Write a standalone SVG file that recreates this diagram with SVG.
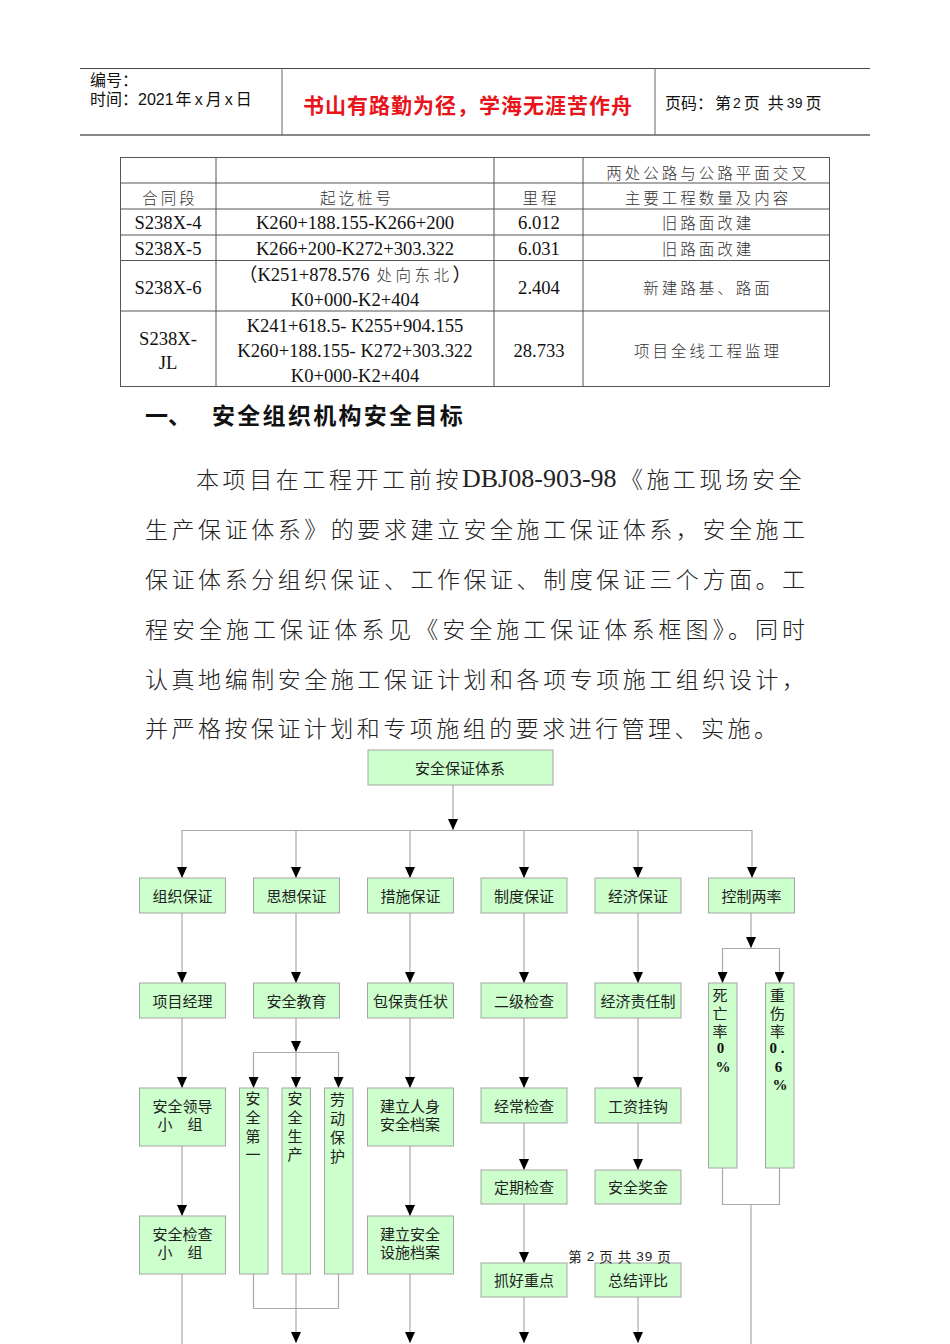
<svg xmlns="http://www.w3.org/2000/svg" width="950" height="1344" viewBox="0 0 950 1344">
<style>
  .cjk{font-family:"Noto Sans CJK SC","Noto Sans",sans-serif;}
  .ser{font-family:"Liberation Serif","Noto Sans CJK SC",serif;}
  .hdr{font-family:"Liberation Sans","Noto Sans CJK SC",sans-serif;font-size:16px;fill:#111;}
  .tbl{font-family:"Liberation Serif","Noto Sans CJK SC",serif;font-size:18.6px;fill:#111;text-anchor:middle;dominant-baseline:central;}
  .tcn{font-family:"Noto Sans CJK SC",sans-serif;font-size:15.5px;fill:#333;text-anchor:middle;dominant-baseline:central;letter-spacing:3px;font-weight:300;}
  .tl{stroke:#555;stroke-width:1;fill:none;}
  .para{font-family:"Noto Sans CJK SC",sans-serif;font-size:23px;fill:#222;dominant-baseline:central;font-weight:300;}
  .box{fill:#CCFFCC;stroke:#A5A5A5;stroke-width:1;}
  .bt{font-family:"Noto Sans CJK SC",sans-serif;font-size:15px;fill:#222;text-anchor:middle;dominant-baseline:central;}
  .vt{font-family:"Noto Sans CJK SC",sans-serif;font-size:15px;fill:#222;text-anchor:middle;dominant-baseline:central;}
  .vb{font-family:"Liberation Serif",serif;font-size:15px;font-weight:bold;fill:#111;text-anchor:middle;dominant-baseline:central;}
  .cn{stroke:#AAAAAA;stroke-width:1.2;fill:none;}
  .ar{marker-end:url(#arr);}
</style>
<defs>
  <marker id="arr" viewBox="0 0 11 10" markerWidth="11" markerHeight="10" refX="11" refY="5" orient="auto" markerUnits="userSpaceOnUse">
    <path d="M0,0 L11,5 L0,10 z" fill="#000"/>
  </marker>
</defs>
<rect x="0" y="0" width="950" height="1344" fill="#fff"/>

<!-- header -->
<g id="header">
  <line x1="80" y1="68.5" x2="870" y2="68.5" stroke="#444" stroke-width="1"/>
  <line x1="80" y1="135" x2="870" y2="135" stroke="#888" stroke-width="2"/>
  <line x1="282" y1="68" x2="282" y2="135" stroke="#666" stroke-width="1"/>
  <line x1="655" y1="68" x2="655" y2="135" stroke="#666" stroke-width="1"/>
  <text class="hdr" x="90" y="80" dominant-baseline="central">编号：</text>
  <text class="hdr" x="90" y="99" dominant-baseline="central">时间：2021<tspan dx="2">年</tspan><tspan dx="3">x</tspan><tspan dx="3">月</tspan><tspan dx="3">x</tspan><tspan dx="3">日</tspan></text>
  <text x="468" y="104" text-anchor="middle" dominant-baseline="central" font-family="Noto Sans CJK SC, sans-serif" font-size="21" font-weight="bold" fill="#E8131B" letter-spacing="1">书山有路勤为径，学海无涯苦作舟</text>
  <text class="hdr" x="665" y="103" font-size="15.5" dominant-baseline="central">页码：<tspan dx="2">第</tspan><tspan dx="2" font-size="14">2</tspan><tspan dx="3">页</tspan><tspan dx="8">共</tspan><tspan dx="3" font-size="14">39</tspan><tspan dx="3">页</tspan></text>
</g>

<!-- table -->
<g id="table">
  <rect class="tl" x="120.5" y="157.5" width="709" height="229"/>
  <line class="tl" x1="120" y1="183" x2="830" y2="183"/>
  <line class="tl" x1="120" y1="209" x2="830" y2="209"/>
  <line class="tl" x1="120" y1="235" x2="830" y2="235"/>
  <line class="tl" x1="120" y1="260.5" x2="830" y2="260.5"/>
  <line class="tl" x1="120" y1="311" x2="830" y2="311"/>
  <line class="tl" x1="216" y1="157" x2="216" y2="387"/>
  <line class="tl" x1="494" y1="157" x2="494" y2="387"/>
  <line class="tl" x1="583" y1="157" x2="583" y2="387"/>
  <text class="tcn" x="708" y="172">两处公路与公路平面交叉</text>
  <text class="tcn" x="170" y="197">合同段</text>
  <text class="tcn" x="357" y="197">起讫桩号</text>
  <text class="tcn" x="541" y="197">里程</text>
  <text class="tcn" x="708" y="197">主要工程数量及内容</text>
  <text class="tbl" x="168" y="222">S238X-4</text>
  <text class="tbl" x="355" y="222">K260+188.155-K266+200</text>
  <text class="tbl" x="539" y="222">6.012</text>
  <text class="tcn" x="708" y="222">旧路面改建</text>
  <text class="tbl" x="168" y="248">S238X-5</text>
  <text class="tbl" x="355" y="248">K266+200-K272+303.322</text>
  <text class="tbl" x="539" y="248">6.031</text>
  <text class="tcn" x="708" y="248">旧路面改建</text>
  <text class="tbl" x="168" y="287">S238X-6</text>
  <text class="tbl" x="355" y="274">（K251+878.576<tspan class="cjk" font-size="15.5" font-weight="300" letter-spacing="3.5" fill="#333"> 处向东北</tspan>）</text>
  <text class="tbl" x="355" y="299">K0+000-K2+404</text>
  <text class="tbl" x="539" y="287">2.404</text>
  <text class="tcn" x="708" y="287">新建路基、路面</text>
  <text class="tbl" x="168" y="338">S238X-</text>
  <text class="tbl" x="168" y="362">JL</text>
  <text class="tbl" x="355" y="325">K241+618.5- K255+904.155</text>
  <text class="tbl" x="355" y="350">K260+188.155- K272+303.322</text>
  <text class="tbl" x="355" y="375">K0+000-K2+404</text>
  <text class="tbl" x="539" y="350">28.733</text>
  <text class="tcn" x="708" y="350">项目全线工程监理</text>
</g>

<!-- heading and paragraph -->
<g id="text-body">
  <text x="145" y="414" font-family="Noto Sans CJK SC, sans-serif" font-size="23" font-weight="bold" fill="#111" dominant-baseline="central">一、</text>
  <text x="212" y="414" font-family="Noto Sans CJK SC, sans-serif" font-size="23" font-weight="bold" fill="#111" dominant-baseline="central" letter-spacing="2.3">安全组织机构安全目标</text>
  <text class="para" x="196" y="478" letter-spacing="3.6">本项目在工程开工前按<tspan class="ser" x="462" font-size="26" font-weight="normal" letter-spacing="0">DBJ08-903-98</tspan><tspan x="620" letter-spacing="3.4">《施工现场安全</tspan></text>
  <text class="para" x="145" y="528" textLength="660" lengthAdjust="spacing">生产保证体系》的要求建立安全施工保证体系，安全施工</text>
  <text class="para" x="145" y="578" textLength="660" lengthAdjust="spacing">保证体系分组织保证、工作保证、制度保证三个方面。工</text>
  <text class="para" x="145" y="628" textLength="660" lengthAdjust="spacing">程安全施工保证体系见《安全施工保证体系框图》。同时</text>
  <text class="para" x="145" y="678" textLength="660" lengthAdjust="spacing">认真地编制安全施工保证计划和各项专项施工组织设计，</text>
  <text class="para" x="145" y="727" textLength="632" lengthAdjust="spacing">并严格按保证计划和专项施组的要求进行管理、实施。</text>
</g>

<!-- connectors -->
<g id="connectors">
  <path class="cn ar" d="M453,785 V830"/>
  <path class="cn" d="M182,830.5 H752"/>
  <path class="cn ar" d="M182,830 V878"/>
  <path class="cn ar" d="M296,830 V878"/>
  <path class="cn ar" d="M410,830 V878"/>
  <path class="cn ar" d="M524,830 V878"/>
  <path class="cn ar" d="M638,830 V878"/>
  <path class="cn ar" d="M752,830 V878"/>
  <path class="cn ar" d="M182,913 V983"/>
  <path class="cn ar" d="M296,913 V983"/>
  <path class="cn ar" d="M410,913 V983"/>
  <path class="cn ar" d="M524,913 V983"/>
  <path class="cn ar" d="M638,913 V983"/>
  <path class="cn ar" d="M751,913 V948"/>
  <path class="cn" d="M722.5,948.5 H779.5"/>
  <path class="cn ar" d="M722.5,948 V983"/>
  <path class="cn ar" d="M779.5,948 V983"/>
  <path class="cn ar" d="M182,1018 V1088"/>
  <path class="cn ar" d="M182,1146 V1216"/>
  <path class="cn" d="M182,1274 V1344"/>
  <path class="cn ar" d="M296,1018 V1052"/>
  <path class="cn" d="M253.5,1052.5 H338.5"/>
  <path class="cn ar" d="M253.5,1052 V1088"/>
  <path class="cn ar" d="M296,1052 V1088"/>
  <path class="cn ar" d="M338.5,1052 V1088"/>
  <path class="cn" d="M253.5,1274 V1308.5 H338.5 V1274"/>
  <path class="cn ar" d="M296,1274 V1343"/>
  <path class="cn ar" d="M410,1018 V1088"/>
  <path class="cn ar" d="M410,1146 V1216"/>
  <path class="cn ar" d="M410,1274 V1343"/>
  <path class="cn ar" d="M524,1018 V1088"/>
  <path class="cn ar" d="M524,1123 V1170"/>
  <path class="cn ar" d="M524,1204 V1263"/>
  <path class="cn ar" d="M524,1297 V1343"/>
  <path class="cn ar" d="M638,1018 V1088"/>
  <path class="cn ar" d="M638,1123 V1170"/>
  <path class="cn ar" d="M638,1297 V1343"/>
  <path class="cn" d="M722.5,1168 V1204.5 H779.5 V1168"/>
  <path class="cn" d="M751,1204 V1344"/>
</g>

<!-- nodes -->
<g id="n-root"><rect class="box" x="368" y="750" width="185" height="35"/><text class="bt" x="460" y="767">安全保证体系</text></g>

<g id="n-zuzhi"><rect class="box" x="139.5" y="878" width="86" height="35"/><text class="bt" x="182.5" y="895">组织保证</text></g>
<g id="n-sixiang"><rect class="box" x="253.5" y="878" width="86" height="35"/><text class="bt" x="296.5" y="895">思想保证</text></g>
<g id="n-cuoshi"><rect class="box" x="367.5" y="878" width="86" height="35"/><text class="bt" x="410.5" y="895">措施保证</text></g>
<g id="n-zhidu"><rect class="box" x="481" y="878" width="86" height="35"/><text class="bt" x="524" y="895">制度保证</text></g>
<g id="n-jingji"><rect class="box" x="595" y="878" width="86" height="35"/><text class="bt" x="638" y="895">经济保证</text></g>
<g id="n-kongzhi"><rect class="box" x="708.5" y="878" width="86" height="35"/><text class="bt" x="751.5" y="895">控制两率</text></g>

<g id="n-xiangmu"><rect class="box" x="139.5" y="983" width="86" height="35"/><text class="bt" x="182.5" y="1000">项目经理</text></g>
<g id="n-anquanjiaoyu"><rect class="box" x="253.5" y="983" width="86" height="35"/><text class="bt" x="296.5" y="1000">安全教育</text></g>
<g id="n-baobao"><rect class="box" x="367.5" y="983" width="86" height="35"/><text class="bt" x="410.5" y="1000">包保责任状</text></g>
<g id="n-erji"><rect class="box" x="481" y="983" width="86" height="35"/><text class="bt" x="524" y="1000">二级检查</text></g>
<g id="n-jingjizeren"><rect class="box" x="595" y="983" width="86" height="35"/><text class="bt" x="638" y="1000">经济责任制</text></g>

<g id="n-siwang"><rect class="box" x="708.5" y="983" width="28.5" height="185"/>
  <text class="vt" x="720" y="994">死</text>
  <text class="vt" x="720" y="1012">亡</text>
  <text class="vt" x="720" y="1030">率</text>
  <text class="vb" x="720.5" y="1048">0</text>
  <text class="vb" x="723" y="1067">%</text>
</g>
<g id="n-zhongshang"><rect class="box" x="765.5" y="983" width="28.5" height="185"/>
  <text class="vt" x="777.5" y="994">重</text>
  <text class="vt" x="777.5" y="1012">伤</text>
  <text class="vt" x="777.5" y="1030">率</text>
  <text class="vb" x="777" y="1048">0 .</text>
  <text class="vb" x="778.5" y="1067">6</text>
  <text class="vb" x="780" y="1085">%</text>
</g>

<g id="n-lingdao"><rect class="box" x="139.5" y="1088" width="86" height="58"/><text class="bt" x="182.5" y="1105">安全领导</text><text class="bt" x="180" y="1123">小　组</text></g>
<g id="n-diyi"><rect class="box" x="239.5" y="1088" width="28.5" height="186"/>
  <text class="vt" x="253" y="1097">安</text><text class="vt" x="253" y="1116">全</text><text class="vt" x="253" y="1135">第</text><text class="vt" x="253" y="1153">一</text></g>
<g id="n-shengchan"><rect class="box" x="282" y="1088" width="28.5" height="186"/>
  <text class="vt" x="295" y="1097">安</text><text class="vt" x="295" y="1116">全</text><text class="vt" x="295" y="1135">生</text><text class="vt" x="295" y="1153">产</text></g>
<g id="n-laodong"><rect class="box" x="324.5" y="1088" width="28.5" height="186"/>
  <text class="vt" x="337.5" y="1098">劳</text><text class="vt" x="337.5" y="1117">动</text><text class="vt" x="337.5" y="1136">保</text><text class="vt" x="337.5" y="1155">护</text></g>
<g id="n-renshen"><rect class="box" x="367.5" y="1088" width="86" height="58"/><text class="bt" x="410" y="1105">建立人身</text><text class="bt" x="410" y="1123">安全档案</text></g>
<g id="n-jingchang"><rect class="box" x="481" y="1088" width="86" height="35"/><text class="bt" x="524" y="1105">经常检查</text></g>
<g id="n-gongzi"><rect class="box" x="595" y="1088" width="86" height="35"/><text class="bt" x="638" y="1105">工资挂钩</text></g>

<g id="n-dingqi"><rect class="box" x="481" y="1170" width="86" height="34"/><text class="bt" x="524" y="1186">定期检查</text></g>
<g id="n-jiangjin"><rect class="box" x="595" y="1170" width="86" height="34"/><text class="bt" x="638" y="1186">安全奖金</text></g>

<g id="n-jiancha"><rect class="box" x="139.5" y="1216" width="86" height="58"/><text class="bt" x="182.5" y="1233">安全检查</text><text class="bt" x="180" y="1251">小　组</text></g>
<g id="n-sheshi"><rect class="box" x="367.5" y="1216" width="86" height="58"/><text class="bt" x="410" y="1233">建立安全</text><text class="bt" x="410" y="1251">设施档案</text></g>
<g id="n-zhuahao"><rect class="box" x="481" y="1263" width="86" height="34"/><text class="bt" x="524" y="1279">抓好重点</text></g>
<g id="n-zongjie"><rect class="box" x="595" y="1263" width="86" height="34"/><text class="bt" x="638" y="1279">总结评比</text></g>

<g id="footer">
  <text x="620" y="1256" text-anchor="middle" dominant-baseline="central" font-family="Noto Sans CJK SC, sans-serif" font-size="13.5" fill="#222" letter-spacing="1">第 <tspan font-family="Liberation Sans, sans-serif">2</tspan> 页 共 <tspan font-family="Liberation Sans, sans-serif">39</tspan> 页</text>
</g>
</svg>
